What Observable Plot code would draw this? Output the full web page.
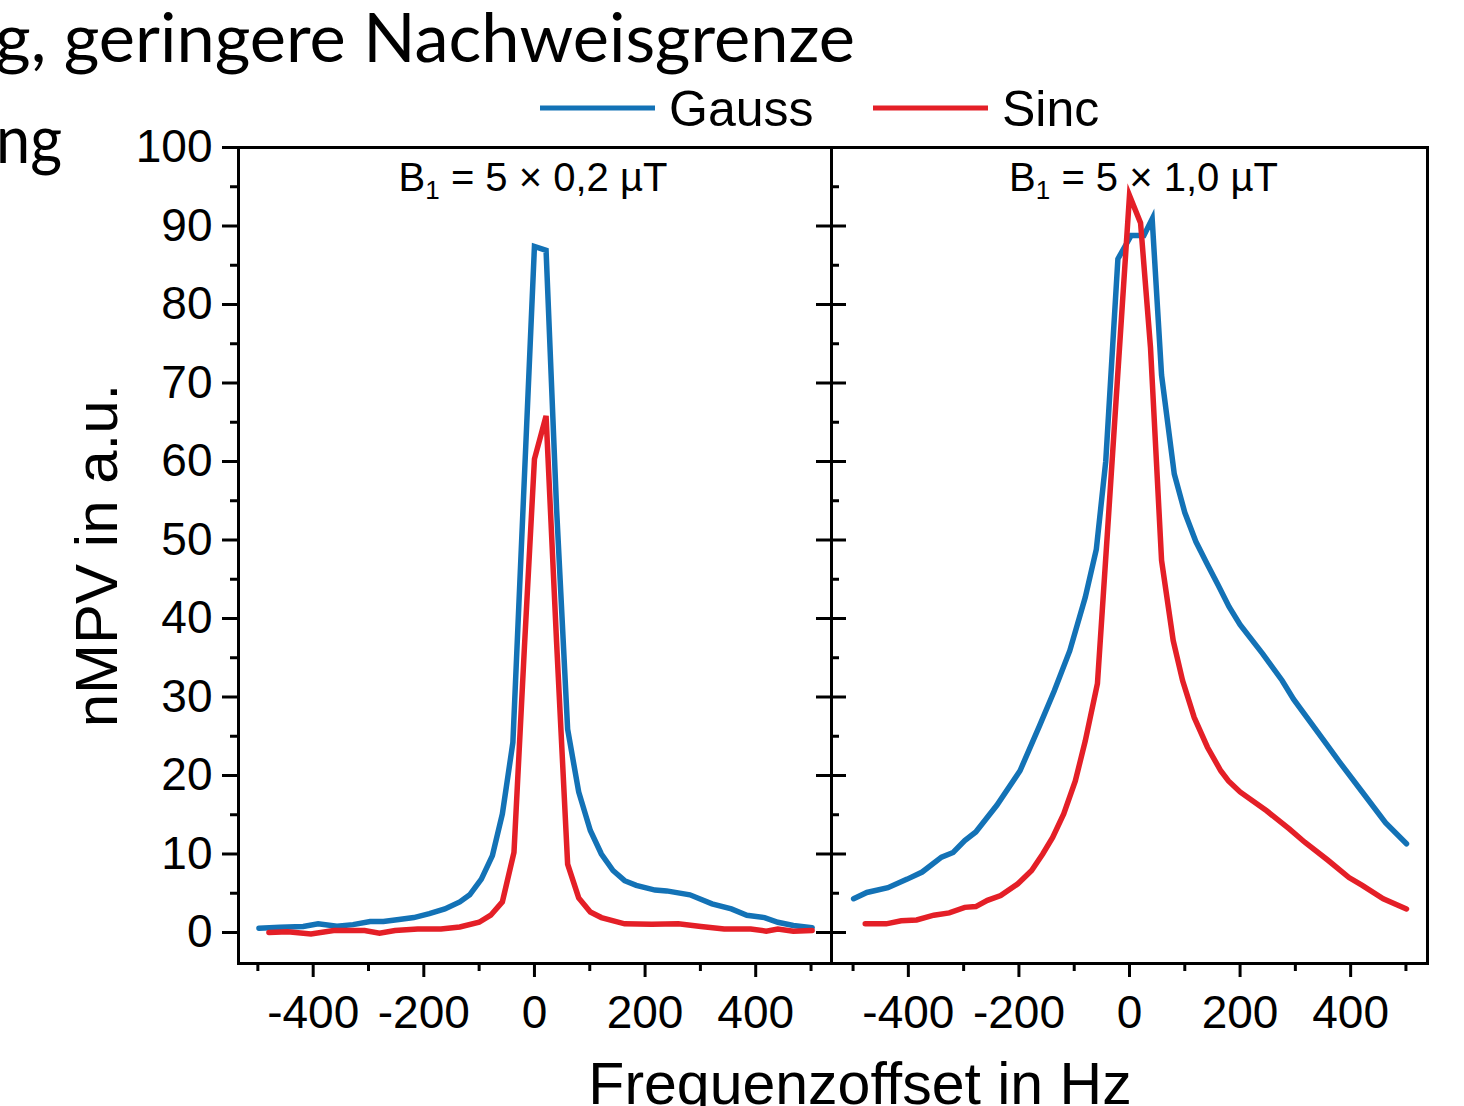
<!DOCTYPE html>
<html>
<head>
<meta charset="utf-8">
<script src="https://cdn.jsdelivr.net/npm/d3@7"></script>
<script src="https://cdn.jsdelivr.net/npm/@observablehq/plot@0.6"></script>
<style>
  body { margin: 0; background: #fff; }
  #root { position: relative; width: 1464px; height: 1106px; overflow: hidden; background: #fff; }
  #root > div, #root > svg { position: absolute; top: 0; }
</style>
</head>
<body>
<div id="root">
  <svg id="overlay" width="1464" height="1106" style="left:0;top:0"></svg>
  <div id="leftPanel" style="left:0"></div>
  <div id="rightPanel" style="left:811px"></div>
</div>
<script>
// ---------------- data ----------------
const seriesNames = ["Gauss", "Sinc"];
const seriesColors = ["#1372b6", "#e41f27"];
const panelLabels = ["5 × 0,2 µT", "5 × 1,0 µT"];
const slideLine1 = "g, geringere Nachweisgrenze";
const slideLine2 = "ng";
const yTitle = "nMPV in a.u.";
const xTitle = "Frequenzoffset in Hz";

const yTicks = [0, 10, 20, 30, 40, 50, 60, 70, 80, 90, 100];
const yMinorTicks = [5, 15, 25, 35, 45, 55, 65, 75, 85, 95];
const xTicks = [-400, -200, 0, 200, 400];
const xMinorTicks = [-500, -300, -100, 100, 300, 500];

// Left panel: B1 = 5 x 0,2 µT
const leftGaussHz = [-498, -460, -418, -391, -357, -328, -297, -273, -245, -218, -190, -162, -135, -117, -96, -76, -58, -39, -20, 0, 21, 40, 60, 80, 101, 121, 142, 163, 184, 218, 239, 260, 281, 321, 356, 384, 416, 440, 468, 502];
const leftGaussVal = [0.55, 0.68, 0.76, 1.1, 0.8, 1.0, 1.4, 1.4, 1.65, 1.9, 2.4, 3.0, 3.9, 4.8, 6.8, 9.8, 15.1, 24.2, 55.0, 87.4, 86.9, 54.0, 25.9, 17.9, 13.0, 10.0, 7.9, 6.6, 6.0, 5.4, 5.3, 5.05, 4.8, 3.65, 3.0, 2.2, 1.9, 1.3, 0.9, 0.6];
const leftSincHz = [-480, -446, -404, -363, -307, -280, -252, -211, -169, -135, -100, -79, -58, -37, -18, 0, 21, 40, 60, 80, 101, 121, 163, 212, 260, 301, 343, 391, 419, 440, 468, 502];
const leftSincVal = [0.0, 0.1, -0.2, 0.25, 0.25, -0.1, 0.25, 0.45, 0.45, 0.7, 1.3, 2.2, 3.9, 10.2, 36.5, 60.3, 65.8, 37.0, 8.7, 4.4, 2.6, 1.9, 1.1, 1.05, 1.1, 0.76, 0.45, 0.45, 0.17, 0.45, 0.17, 0.25];

// Right panel: B1 = 5 x 1,0 µT
const rightGaussHz = [-499, -475, -437, -402, -375, -340, -319, -298, -278, -240, -198, -163, -136, -108, -80, -60, -43, -21, 3, 26, 41, 58, 81, 100, 120, 140, 160, 180, 200, 241, 276, 297, 352, 380, 421, 463, 501];
const rightGaussVal = [4.3, 5.1, 5.7, 6.8, 7.7, 9.6, 10.2, 11.7, 12.8, 16.2, 20.6, 26.3, 30.8, 35.9, 42.7, 48.8, 60.0, 85.8, 88.8, 88.8, 90.9, 71.0, 58.4, 53.5, 49.8, 47.0, 44.3, 41.5, 39.2, 35.5, 32.1, 29.7, 24.4, 21.7, 17.9, 14.0, 11.3];
const rightSincHz = [-478, -440, -413, -385, -354, -326, -298, -278, -257, -233, -202, -177, -157, -139, -119, -98, -80, -58, -38, -19, 0, 20, 38, 58, 79, 96, 117, 141, 165, 179, 200, 248, 289, 317, 359, 397, 421, 459, 501];
const rightSincVal = [1.1, 1.1, 1.5, 1.6, 2.2, 2.5, 3.2, 3.3, 4.1, 4.7, 6.2, 7.9, 10.0, 12.1, 15.1, 19.3, 24.4, 31.7, 53.0, 73.5, 93.9, 90.4, 74.5, 47.4, 37.2, 32.1, 27.4, 23.6, 20.6, 19.3, 17.9, 15.5, 13.2, 11.5, 9.2, 7.0, 6.0, 4.3, 3.0];

// ---------------- helpers ----------------
const rows = (hz, val) => hz.map((h, i) => ({hz: h, v: val[i]}));
const FONT = "'Liberation Sans', Arial, Helvetica, sans-serif";
const H = 1040, TOP = 147, BOTTOM = 963;
const yDomain = [-3.95, 100];
const lineOpts = (color) => ({x: "hz", y: "v", stroke: color, strokeWidth: 5.5, strokeLinejoin: "miter", strokeMiterlimit: 6, strokeLinecap: "round"});

function fixLabel(svg, rest) {
  d3.select(svg).selectAll("text").filter(function() { return this.textContent === "B1 " + rest; }).each(function() {
    const t = d3.select(this);
    t.text(null);
    t.append("tspan").text("B");
    t.append("tspan").attr("font-size", 26).attr("dy", 8).text("1");
    t.append("tspan").attr("dy", -8).text(" = " + rest);
  });
}

// ---------------- left panel ----------------
const leftW = 851, leftML = 238, leftMR = 20;
const leftFrameW = leftW - leftML - leftMR;
const leftPlot = Plot.plot({
  width: leftW, height: H,
  marginLeft: leftML, marginRight: leftMR, marginTop: TOP, marginBottom: H - BOTTOM,
  x: {domain: [-535, 537], label: null},
  y: {domain: yDomain, label: null},
  style: {fontFamily: FONT, background: "transparent", overflow: "visible", color: "#000"},
  marks: [
    Plot.axisY({ticks: yTicks, tickSize: 16, tickPadding: 10, fontSize: 46, strokeWidth: 3, tickFormat: d => String(d), label: null}),
    Plot.axisY({ticks: yMinorTicks, tickSize: 8, strokeWidth: 3, tickFormat: () => "", label: null}),
    Plot.tickY(yTicks, {y: d => d, insetLeft: leftFrameW - 15, strokeWidth: 3}),
    Plot.axisX({ticks: xTicks, tickSize: 14, tickPadding: 18, fontSize: 46, strokeWidth: 3, tickFormat: d => String(d), label: null}),
    Plot.axisX({ticks: xMinorTicks, tickSize: 8, strokeWidth: 3, tickFormat: () => "", label: null}),
    Plot.line(rows(leftGaussHz, leftGaussVal), lineOpts(seriesColors[0])),
    Plot.line(rows(leftSincHz, leftSincVal), lineOpts(seriesColors[1])),
    Plot.text(["B1 " + panelLabels[0]], {text: d => d, frameAnchor: "top", lineAnchor: "top", dy: 15, dx: -2, fontSize: 40}),
    Plot.text([yTitle], {text: d => d, frameAnchor: "left", textAnchor: "middle", lineAnchor: "middle", rotate: -90, dx: -141, fontSize: 60}),
    Plot.frame({strokeWidth: 3})
  ]
});
fixLabel(leftPlot, panelLabels[0]);
document.getElementById("leftPanel").appendChild(leftPlot);

// ---------------- right panel ----------------
const rightW = 653, rightML = 20, rightMR = 37;
const rightFrameW = rightW - rightML - rightMR;
const rightPlot = Plot.plot({
  width: rightW, height: H,
  marginLeft: rightML, marginRight: rightMR, marginTop: TOP, marginBottom: H - BOTTOM,
  x: {domain: [-539, 539], label: null},
  y: {domain: yDomain, label: null, axis: null},
  style: {fontFamily: FONT, background: "transparent", overflow: "visible", color: "#000"},
  marks: [
    Plot.tickY(yTicks, {y: d => d, insetRight: rightFrameW - 15, strokeWidth: 3}),
    Plot.tickY(yMinorTicks, {y: d => d, insetRight: rightFrameW - 8, strokeWidth: 3}),
    Plot.axisX({ticks: xTicks, tickSize: 14, tickPadding: 18, fontSize: 46, strokeWidth: 3, tickFormat: d => String(d), label: null}),
    Plot.axisX({ticks: xMinorTicks, tickSize: 8, strokeWidth: 3, tickFormat: () => "", label: null}),
    Plot.line(rows(rightGaussHz, rightGaussVal), lineOpts(seriesColors[0])),
    Plot.line(rows(rightSincHz, rightSincVal), lineOpts(seriesColors[1])),
    Plot.text(["B1 " + panelLabels[1]], {text: d => d, frameAnchor: "top", lineAnchor: "top", dy: 15, dx: 14, fontSize: 40}),
    Plot.frame({strokeWidth: 3})
  ]
});
fixLabel(rightPlot, panelLabels[1]);
document.getElementById("rightPanel").appendChild(rightPlot);

// ---------------- overlay: slide text, legend, x title ----------------
const ov = d3.select("#overlay");
ov.append("text").attr("x", 855).attr("y", 62).attr("text-anchor", "end")
  .attr("font-family", "Lato, 'Open Sans', sans-serif").attr("font-size", 67)
  .attr("textLength", 860).attr("lengthAdjust", "spacingAndGlyphs").text(slideLine1);
ov.append("text").attr("x", 62).attr("y", 163).attr("text-anchor", "end")
  .attr("font-family", "Lato, 'Open Sans', sans-serif").attr("font-size", 67)
  .attr("textLength", 66).attr("lengthAdjust", "spacingAndGlyphs").text(slideLine2);

const legendX = [540, 873];
seriesNames.forEach((name, i) => {
  ov.append("line").attr("x1", legendX[i]).attr("x2", legendX[i] + 115)
    .attr("y1", 108).attr("y2", 108).attr("stroke", seriesColors[i]).attr("stroke-width", 5);
  ov.append("text").attr("x", legendX[i] + 129).attr("y", 126)
    .attr("font-family", FONT).attr("font-size", 50).text(name);
});
ov.append("text").attr("x", 860).attr("y", 1104).attr("text-anchor", "middle")
  .attr("font-family", FONT).attr("font-size", 59).text(xTitle);
</script>
</body>
</html>
